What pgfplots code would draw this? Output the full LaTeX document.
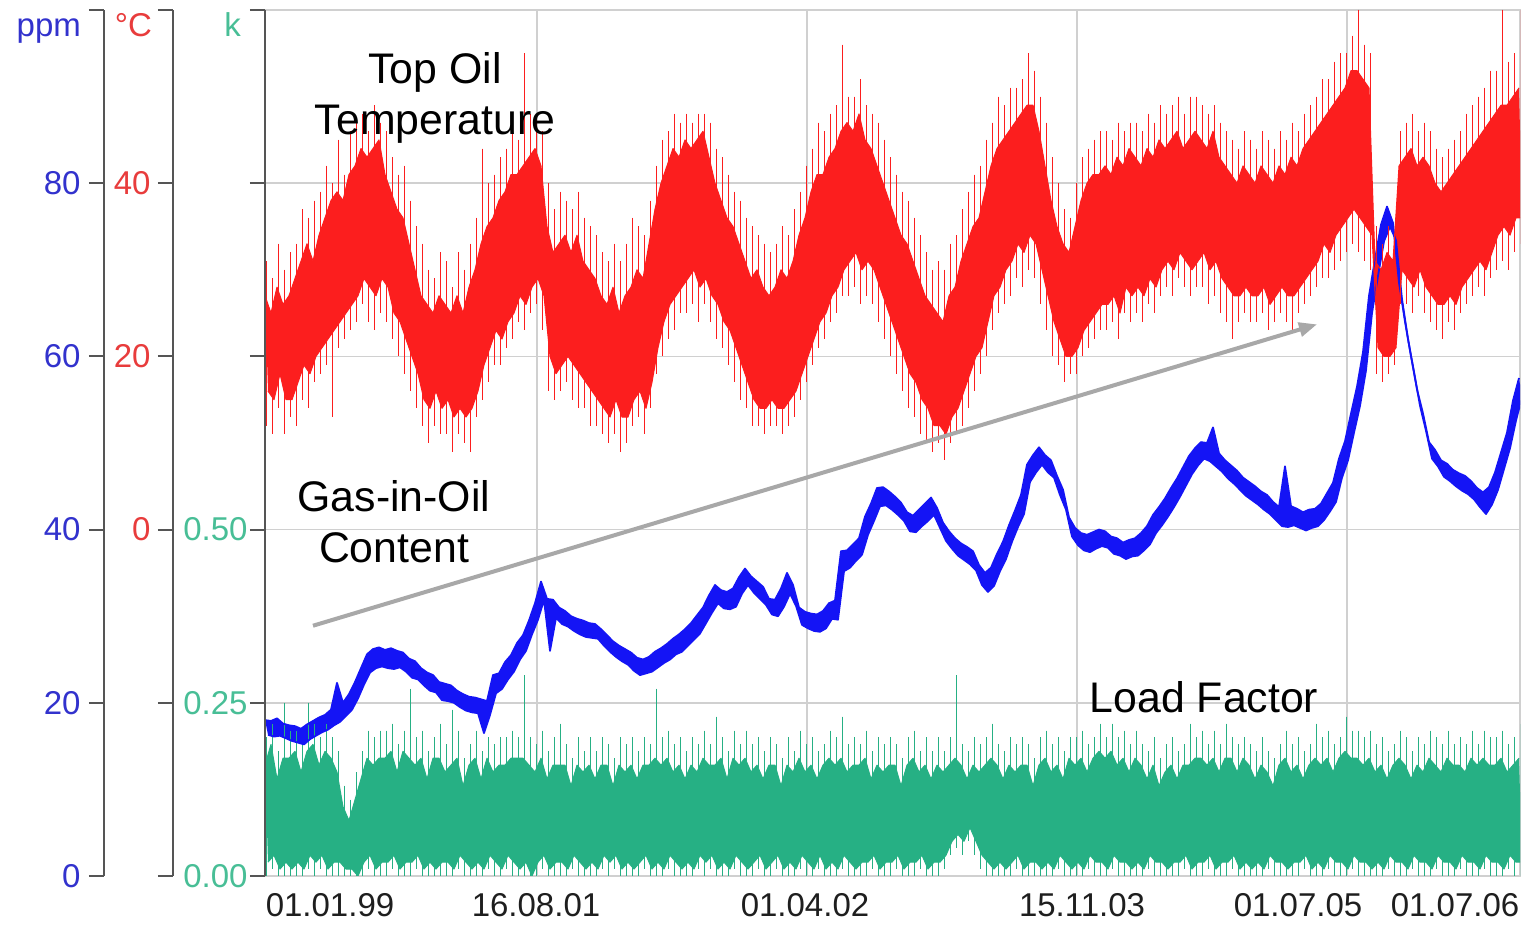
\documentclass[border=0pt]{standalone}
\usepackage{pgfplots}
\pgfplotsset{compat=1.18}
\usepackage{pgfplotstable}
\usepgfplotslibrary{fillbetween}
\usepackage{fontspec}
\setmainfont{Liberation Sans}
\usetikzlibrary{arrows.meta}

\definecolor{ppmblue}{RGB}{50,50,205}
\definecolor{degred}{RGB}{232,60,60}
\definecolor{kgreen}{RGB}{72,190,150}
\definecolor{oilred}{RGB}{252,30,30}
\definecolor{gasblue}{RGB}{20,20,245}
\definecolor{loadgreen}{RGB}{38,176,132}
\definecolor{axisgray}{RGB}{85,85,85}
\definecolor{gridgray}{RGB}{208,208,208}
\definecolor{arrowgray}{RGB}{168,168,168}
\definecolor{datecol}{RGB}{30,30,30}

\newcommand{\ticksize}{\fontsize{16.5}{19.8}\selectfont}
\newcommand{\notesize}{\fontsize{21.4}{25.5}\selectfont}

% One row per interval of 6 units of x:
% upper and lower edge of the dense band (upper at 6i, lower at 6i+3),
% then the highest and lowest single reading in that interval.

% Top oil temperature, degC
\pgfplotstableread[row sep=\\,header=false]{
27 16 31 12\\ 25 15 29 11\\ 28 18 33 14\\ 26 15 30 11\\ 27 15 32 13\\
29 17 33 12\\ 31 19 37 15\\ 33 18 36 14\\ 31 20 38 17\\ 34 21 39 18\\
36 22 42 19\\ 38 23 40 13\\ 39 24 45 21\\ 38 25 41 22\\ 41 26 46 23\\
42 27 47 24\\ 44 29 48 26\\ 43 28 46 24\\ 44 27 49 23\\ 45 29 47 25\\
41 28 46 24\\ 39 25 43 22\\ 37 24 41 20\\ 36 22 42 18\\ 33 20 38 16\\
30 18 35 14\\ 27 15 33 12\\ 26 14 30 10\\ 25 16 29 12\\ 27 14 32 11\\
26 15 31 11\\ 25 13 28 9\\ 27 14 32 11\\ 25 13 30 10\\ 28 14 33 9\\
30 16 36 13\\ 33 19 44 15\\ 35 21 40 17\\ 36 23 41 19\\ 38 22 43 19\\
39 24 44 21\\ 41 25 46 22\\ 41 27 45 24\\ 42 26 55 23\\ 43 28 48 25\\
44 29 48 26\\ 42 27 46 23\\ 35 20 40 16\\ 32 18 37 15\\ 33 19 39 16\\
34 20 38 17\\ 32 19 37 15\\ 34 18 39 14\\ 31 17 36 14\\ 30 16 35 12\\
29 15 34 12\\ 27 14 32 11\\ 26 13 31 10\\ 28 15 33 11\\ 25 13 31 9\\
27 13 33 10\\ 28 15 36 12\\ 30 16 35 13\\ 29 14 34 11\\ 33 17 38 14\\
37 21 42 18\\ 40 24 45 20\\ 42 26 46 22\\ 44 27 48 23\\ 43 28 47 25\\
45 29 48 25\\ 44 30 47 26\\ 45 28 48 24\\ 46 29 48 26\\ 43 27 47 24\\
40 26 44 22\\ 38 24 43 21\\ 36 23 41 19\\ 35 21 39 17\\ 33 19 38 15\\
31 17 36 14\\ 29 15 35 12\\ 30 14 34 12\\ 28 14 33 11\\ 27 15 32 12\\
28 14 33 12\\ 30 14 35 11\\ 29 15 34 12\\ 31 16 37 13\\ 34 18 39 15\\
36 20 42 17\\ 39 22 44 19\\ 41 24 47 21\\ 41 25 46 22\\ 43 27 48 24\\
44 28 49 25\\ 46 30 56 27\\ 47 31 50 27\\ 46 32 50 28\\ 48 30 52 26\\
45 31 49 27\\ 44 30 48 26\\ 42 28 47 24\\ 40 26 45 22\\ 38 24 43 20\\
36 22 41 18\\ 34 20 39 16\\ 33 18 38 14\\ 31 17 36 13\\ 29 15 34 11\\
27 14 32 10\\ 26 12 30 9\\ 25 12 31 10\\ 24 11 30 8\\ 27 13 33 10\\
28 14 34 11\\ 31 16 37 12\\ 33 18 39 14\\ 35 20 41 16\\ 36 21 42 18\\
39 24 45 20\\ 42 27 47 23\\ 44 28 50 25\\ 45 30 49 26\\ 46 31 51 27\\
47 33 51 29\\ 48 32 52 28\\ 49 34 55 30\\ 49 33 53 29\\ 46 30 50 26\\
42 27 47 23\\ 38 24 43 20\\ 35 22 40 19\\ 33 20 37 17\\ 32 20 36 18\\
35 21 40 18\\ 38 23 43 20\\ 40 24 44 21\\ 41 25 45 22\\ 41 26 46 23\\
42 26 46 23\\ 41 27 45 24\\ 43 25 47 22\\ 42 28 46 25\\ 44 27 47 24\\
43 28 47 25\\ 42 27 46 24\\ 44 29 48 26\\ 43 28 47 25\\ 45 30 49 27\\
44 31 48 28\\ 45 30 49 27\\ 46 32 50 29\\ 44 31 48 28\\ 45 30 50 27\\
46 31 50 28\\ 45 32 49 28\\ 44 30 48 26\\ 46 31 49 27\\ 43 29 47 25\\
42 28 46 24\\ 41 27 45 22\\ 40 27 44 24\\ 42 28 46 25\\ 41 27 45 24\\
40 27 44 24\\ 42 28 46 25\\ 41 26 45 23\\ 40 27 44 24\\ 42 28 46 25\\
41 27 45 24\\ 43 27 47 23\\ 42 28 46 25\\ 44 29 48 26\\ 45 30 49 27\\
46 31 50 28\\ 47 33 52 29\\ 48 32 52 29\\ 49 34 54 30\\ 50 35 55 31\\
51 36 55 32\\ 53 37 57 33\\ 53 36 60 32\\ 52 35 56 31\\ 51 34 55 30\\
31 21 35 18\\ 30 20 33 17\\ 32 20 35 18\\ 31 21 34 19\\ 42 30 46 26\\
43 29 47 26\\ 44 28 48 25\\ 42 30 46 27\\ 43 28 47 25\\ 42 27 46 24\\
40 26 44 23\\ 39 26 43 22\\ 40 27 44 24\\ 41 26 45 23\\ 42 28 46 25\\
43 29 48 26\\ 44 30 49 27\\ 45 31 50 28\\ 46 30 51 27\\ 47 32 53 29\\
48 34 53 30\\ 49 35 60 31\\ 49 34 54 30\\ 50 36 55 32\\ 51 36 60 33\\
}\oiltemp

% Gas-in-oil content, ppm (upper edge, lower edge)
\pgfplotstableread[row sep=\\,header=false]{
18.0 16.3\\ 17.9 16.1\\ 18.2 16.2\\ 17.6 15.9\\ 17.4 15.6\\
17.3 15.4\\ 17.0 15.2\\ 17.5 15.8\\ 17.9 16.2\\ 18.3 16.6\\
18.6 16.9\\ 19.2 17.4\\ 22.3 17.8\\ 20.0 18.5\\ 21.0 19.2\\
22.4 20.5\\ 24.0 22.1\\ 25.6 23.5\\ 26.2 24.0\\ 26.4 24.2\\
26.1 24.0\\ 26.3 23.9\\ 26.0 24.1\\ 25.8 23.6\\ 25.1 22.9\\
24.8 22.7\\ 24.0 22.0\\ 23.5 21.4\\ 23.2 21.2\\ 22.4 20.3\\
22.2 20.2\\ 22.0 20.0\\ 21.4 19.5\\ 21.0 19.1\\ 20.7 18.9\\
20.6 18.8\\ 20.4 16.5\\ 20.2 18.6\\ 23.2 21.1\\ 23.4 21.6\\
24.7 22.7\\ 25.5 23.6\\ 26.9 25.0\\ 27.8 26.0\\ 29.5 27.9\\
31.5 29.6\\ 34.0 31.9\\ 32.0 26.0\\ 31.9 29.8\\ 31.0 29.1\\
30.6 28.8\\ 30.0 28.3\\ 29.7 27.9\\ 29.5 27.6\\ 29.2 27.5\\
29.1 27.4\\ 28.5 26.6\\ 27.8 25.9\\ 27.1 25.3\\ 26.6 24.8\\
26.2 24.4\\ 25.8 23.7\\ 25.2 23.2\\ 25.0 23.4\\ 25.3 23.6\\
25.9 24.1\\ 26.3 24.6\\ 26.8 25.0\\ 27.4 25.6\\ 27.9 25.9\\
28.5 26.6\\ 29.2 27.3\\ 30.1 28.0\\ 31.0 29.2\\ 32.4 30.4\\
33.6 31.5\\ 33.0 30.9\\ 32.8 30.8\\ 33.2 31.1\\ 34.5 32.6\\
35.5 33.6\\ 34.6 32.7\\ 34.0 32.0\\ 33.4 31.3\\ 32.0 30.2\\
31.9 30.0\\ 33.2 31.1\\ 35.0 32.6\\ 33.6 31.2\\ 31.0 29.0\\
30.5 28.6\\ 30.3 28.3\\ 30.2 28.2\\ 30.6 28.6\\ 31.5 29.7\\
31.8 29.6\\ 37.5 35.2\\ 37.6 35.6\\ 38.3 36.4\\ 39.0 37.1\\
41.5 39.4\\ 43.0 41.0\\ 44.8 42.7\\ 44.9 42.8\\ 44.4 42.3\\
43.8 41.7\\ 43.1 41.0\\ 42.0 39.8\\ 41.6 39.7\\ 42.3 40.4\\
43.0 41.0\\ 43.7 41.7\\ 42.5 40.2\\ 40.8 38.7\\ 39.8 37.8\\
39.0 37.0\\ 38.4 36.5\\ 38.0 36.0\\ 37.5 35.3\\ 35.9 33.6\\
35.0 32.8\\ 35.6 33.5\\ 37.2 35.2\\ 38.6 36.6\\ 40.5 38.6\\
42.2 40.3\\ 44.0 41.8\\ 47.5 45.5\\ 48.6 46.6\\ 49.5 47.5\\
48.6 46.6\\ 48.0 46.0\\ 46.2 44.0\\ 44.6 42.3\\ 41.4 39.2\\
40.2 38.2\\ 39.6 37.6\\ 39.4 37.4\\ 39.7 37.8\\ 40.0 38.1\\
39.8 37.9\\ 39.2 37.2\\ 39.0 37.0\\ 38.5 36.6\\ 38.8 36.9\\
39.0 37.0\\ 39.6 37.6\\ 40.4 38.3\\ 41.7 39.6\\ 42.6 40.5\\
43.6 41.5\\ 44.8 42.6\\ 45.9 43.8\\ 47.2 45.1\\ 48.5 46.4\\
49.4 47.4\\ 50.1 48.2\\ 50.0 47.9\\ 51.8 47.3\\ 48.8 46.7\\
48.0 45.9\\ 47.4 45.3\\ 46.8 44.6\\ 46.0 43.9\\ 45.5 43.4\\
45.0 42.9\\ 44.4 42.3\\ 44.0 41.8\\ 43.2 41.1\\ 42.6 40.4\\
47.3 40.3\\ 42.7 40.5\\ 42.4 40.2\\ 42.0 39.9\\ 42.3 40.2\\
42.4 40.4\\ 43.0 41.1\\ 44.2 42.1\\ 45.4 43.2\\ 48.2 46.0\\
50.2 48.0\\ 53.4 51.2\\ 56.5 54.3\\ 60.5 58.4\\ 67.0 65.0\\
71.2 69.3\\ 75.2 73.3\\ 77.3 75.0\\ 75.4 73.4\\ 68.5 66.6\\
64.0 62.0\\ 60.0 58.2\\ 56.2 54.3\\ 53.4 51.4\\ 50.1 48.2\\
49.2 47.3\\ 48.0 46.1\\ 47.6 45.6\\ 46.9 45.0\\ 46.5 44.5\\
46.2 44.1\\ 45.6 43.5\\ 44.8 42.6\\ 44.3 41.8\\ 44.9 42.9\\
46.6 44.6\\ 48.9 47.0\\ 51.2 49.4\\ 54.9 52.6\\ 57.5 55.3\\
}\gascontent

% Load factor k
\pgfplotstableread[row sep=\\,header=false]{
0.16 0.02 0.20 0.00\\ 0.19 0.03 0.22 0.01\\ 0.14 0.01 0.18 0.00\\ 0.17 0.02 0.25 0.00\\ 0.17 0.01 0.21 0.00\\
0.18 0.02 0.21 0.00\\ 0.15 0.01 0.19 0.00\\ 0.18 0.03 0.25 0.01\\ 0.19 0.02 0.22 0.00\\ 0.16 0.03 0.20 0.01\\
0.18 0.01 0.22 0.00\\ 0.17 0.02 0.20 0.00\\ 0.15 0.02 0.18 0.00\\ 0.10 0.01 0.13 0.00\\ 0.08 0.01 0.11 0.00\\
0.11 0.00 0.15 0.00\\ 0.14 0.02 0.18 0.00\\ 0.17 0.03 0.21 0.01\\ 0.16 0.01 0.20 0.00\\ 0.17 0.02 0.21 0.00\\
0.17 0.02 0.21 0.00\\ 0.18 0.03 0.22 0.01\\ 0.15 0.01 0.19 0.00\\ 0.18 0.02 0.21 0.00\\ 0.17 0.02 0.27 0.00\\
0.16 0.03 0.20 0.01\\ 0.17 0.01 0.21 0.00\\ 0.14 0.02 0.18 0.00\\ 0.17 0.01 0.20 0.00\\ 0.17 0.02 0.22 0.00\\
0.15 0.02 0.19 0.00\\ 0.16 0.01 0.24 0.00\\ 0.17 0.03 0.21 0.01\\ 0.13 0.02 0.17 0.00\\ 0.16 0.01 0.19 0.00\\
0.17 0.02 0.21 0.00\\ 0.14 0.01 0.18 0.00\\ 0.17 0.03 0.20 0.01\\ 0.15 0.02 0.19 0.00\\ 0.16 0.01 0.20 0.00\\
0.16 0.03 0.20 0.01\\ 0.17 0.02 0.21 0.00\\ 0.17 0.01 0.20 0.00\\ 0.17 0.02 0.29 0.00\\ 0.16 0.00 0.20 0.00\\
0.15 0.02 0.19 0.00\\ 0.17 0.03 0.21 0.01\\ 0.14 0.01 0.18 0.00\\ 0.16 0.02 0.20 0.00\\ 0.16 0.02 0.22 0.00\\
0.16 0.01 0.19 0.00\\ 0.13 0.03 0.17 0.01\\ 0.16 0.02 0.20 0.00\\ 0.15 0.01 0.18 0.00\\ 0.16 0.02 0.20 0.00\\
0.14 0.01 0.18 0.00\\ 0.16 0.03 0.20 0.01\\ 0.16 0.02 0.19 0.00\\ 0.13 0.03 0.17 0.01\\ 0.16 0.01 0.20 0.00\\
0.15 0.02 0.19 0.00\\ 0.16 0.01 0.20 0.00\\ 0.14 0.02 0.18 0.00\\ 0.16 0.03 0.20 0.01\\ 0.16 0.01 0.19 0.00\\
0.17 0.02 0.27 0.00\\ 0.16 0.01 0.20 0.00\\ 0.17 0.03 0.21 0.01\\ 0.15 0.02 0.19 0.00\\ 0.16 0.01 0.20 0.00\\
0.14 0.02 0.18 0.00\\ 0.16 0.01 0.20 0.00\\ 0.15 0.03 0.19 0.01\\ 0.17 0.02 0.21 0.00\\ 0.16 0.03 0.19 0.01\\
0.16 0.01 0.23 0.00\\ 0.17 0.02 0.20 0.00\\ 0.14 0.01 0.18 0.00\\ 0.17 0.03 0.21 0.01\\ 0.16 0.02 0.19 0.00\\
0.17 0.01 0.21 0.00\\ 0.15 0.02 0.19 0.00\\ 0.16 0.03 0.20 0.01\\ 0.14 0.01 0.18 0.00\\ 0.16 0.02 0.20 0.00\\
0.16 0.03 0.19 0.01\\ 0.13 0.01 0.17 0.00\\ 0.16 0.02 0.20 0.00\\ 0.15 0.01 0.18 0.00\\ 0.17 0.03 0.21 0.01\\
0.15 0.02 0.19 0.00\\ 0.16 0.01 0.20 0.00\\ 0.14 0.03 0.18 0.01\\ 0.16 0.01 0.19 0.00\\ 0.17 0.02 0.21 0.00\\
0.16 0.01 0.20 0.00\\ 0.17 0.03 0.23 0.01\\ 0.15 0.02 0.19 0.00\\ 0.16 0.01 0.20 0.00\\ 0.16 0.02 0.19 0.00\\
0.17 0.02 0.21 0.00\\ 0.14 0.03 0.18 0.01\\ 0.16 0.01 0.20 0.00\\ 0.15 0.02 0.19 0.00\\ 0.16 0.02 0.20 0.00\\
0.16 0.03 0.19 0.01\\ 0.13 0.01 0.17 0.00\\ 0.16 0.02 0.20 0.00\\ 0.17 0.02 0.21 0.00\\ 0.15 0.03 0.18 0.01\\
0.16 0.01 0.20 0.00\\ 0.14 0.02 0.18 0.00\\ 0.16 0.02 0.20 0.00\\ 0.15 0.03 0.18 0.01\\ 0.16 0.05 0.20 0.03\\
0.17 0.06 0.29 0.04\\ 0.16 0.05 0.19 0.03\\ 0.14 0.07 0.18 0.05\\ 0.16 0.05 0.20 0.03\\ 0.15 0.03 0.19 0.01\\
0.16 0.02 0.20 0.00\\ 0.17 0.01 0.22 0.00\\ 0.16 0.02 0.19 0.00\\ 0.14 0.01 0.18 0.00\\ 0.16 0.02 0.20 0.00\\
0.15 0.03 0.19 0.01\\ 0.16 0.01 0.20 0.00\\ 0.16 0.02 0.19 0.00\\ 0.13 0.02 0.17 0.00\\ 0.16 0.01 0.20 0.00\\
0.17 0.02 0.21 0.00\\ 0.15 0.01 0.19 0.00\\ 0.16 0.03 0.20 0.01\\ 0.14 0.02 0.18 0.00\\ 0.17 0.01 0.20 0.00\\
0.16 0.02 0.20 0.00\\ 0.17 0.01 0.21 0.00\\ 0.15 0.03 0.19 0.01\\ 0.17 0.02 0.20 0.00\\ 0.18 0.02 0.22 0.00\\
0.17 0.01 0.20 0.00\\ 0.18 0.03 0.22 0.01\\ 0.16 0.02 0.20 0.00\\ 0.17 0.02 0.21 0.00\\ 0.15 0.01 0.19 0.00\\
0.17 0.02 0.21 0.00\\ 0.16 0.01 0.19 0.00\\ 0.14 0.03 0.18 0.01\\ 0.16 0.02 0.20 0.00\\ 0.13 0.02 0.17 0.00\\
0.15 0.01 0.19 0.00\\ 0.16 0.02 0.20 0.00\\ 0.14 0.02 0.18 0.00\\ 0.16 0.03 0.19 0.01\\ 0.16 0.01 0.22 0.00\\
0.17 0.02 0.20 0.00\\ 0.17 0.02 0.21 0.00\\ 0.16 0.03 0.19 0.01\\ 0.17 0.01 0.21 0.00\\ 0.15 0.02 0.19 0.00\\
0.17 0.02 0.22 0.00\\ 0.17 0.03 0.20 0.01\\ 0.15 0.01 0.19 0.00\\ 0.17 0.02 0.20 0.00\\ 0.16 0.01 0.19 0.00\\
0.14 0.02 0.18 0.00\\ 0.16 0.01 0.20 0.00\\ 0.15 0.03 0.18 0.01\\ 0.13 0.02 0.17 0.00\\ 0.16 0.02 0.19 0.00\\
0.17 0.01 0.21 0.00\\ 0.15 0.02 0.19 0.00\\ 0.16 0.02 0.20 0.00\\ 0.14 0.03 0.18 0.01\\ 0.16 0.01 0.19 0.00\\
0.17 0.02 0.22 0.00\\ 0.16 0.01 0.20 0.00\\ 0.17 0.03 0.21 0.01\\ 0.15 0.02 0.19 0.00\\ 0.17 0.02 0.20 0.00\\
0.18 0.01 0.23 0.00\\ 0.17 0.03 0.21 0.01\\ 0.17 0.02 0.21 0.00\\ 0.16 0.02 0.20 0.00\\ 0.17 0.01 0.21 0.00\\
0.15 0.02 0.19 0.00\\ 0.16 0.01 0.20 0.00\\ 0.14 0.03 0.18 0.01\\ 0.16 0.02 0.19 0.00\\ 0.17 0.02 0.21 0.00\\
0.16 0.01 0.20 0.00\\ 0.14 0.03 0.18 0.01\\ 0.16 0.02 0.20 0.00\\ 0.15 0.02 0.19 0.00\\ 0.17 0.01 0.21 0.00\\
0.16 0.03 0.20 0.01\\ 0.15 0.02 0.19 0.00\\ 0.17 0.02 0.21 0.00\\ 0.16 0.01 0.19 0.00\\ 0.16 0.03 0.20 0.01\\
0.15 0.02 0.19 0.00\\ 0.17 0.02 0.21 0.00\\ 0.16 0.01 0.19 0.00\\ 0.17 0.03 0.21 0.01\\ 0.16 0.02 0.20 0.00\\
0.16 0.02 0.20 0.00\\ 0.17 0.01 0.21 0.00\\ 0.15 0.03 0.19 0.01\\ 0.16 0.02 0.20 0.00\\ 0.17 0.02 0.22 0.00\\
}\loadfactor

\pgfplotsset{
  sideaxis/.style={
    scale only axis, width=10pt, height=433pt,
    hide x axis, axis y line*=left, xmin=0, xmax=1,
    tick align=outside, major tick length=7.5pt,
    axis line style={axisgray, line width=1pt},
    tick style={axisgray, line width=1pt},
    yticklabel style={font=\ticksize, inner sep=0pt, anchor=east},
  },
  edge/.style={forget plot, line join=round},
  % thin vertical stroke from the lowest to the highest reading of an interval
  extremes/.style={forget plot, only marks, mark=*, mark size=0pt,
    mark options={draw=none, fill=none},
    error bars/y dir=minus, error bars/y explicit,
    error bars/error mark=none,
    error bars/error bar style={draw=#1, line width=0.5pt}},
}

\begin{document}
\begin{tikzpicture}
\begin{axis}[
  name=main,
  scale only axis, width=627.5pt, height=433pt,
  xmin=0, xmax=1255, ymin=0, ymax=100,
  axis line style={gridgray, line width=1pt},
  xtick={65,271,540,817,1033,1190},
  xticklabels={01.01.99,16.08.01,01.04.02,15.11.03,01.07.05,01.07.06},
  xtick style={draw=none},
  xticklabel style={font=\ticksize, text=datecol, inner sep=0pt, yshift=-8.5pt},
  extra x ticks={272,542,812,1082},
  extra x tick labels={},
  extra x tick style={grid=major, tick style={draw=none}},
  ytick={20,40,60,80}, yticklabels={}, ytick style={draw=none},
  ymajorgrids=true,
  grid style={gridgray, line width=0.8pt},
]
  % load factor (k scale: 1.0 k = 80 ppm)
  \addplot[edge, loadgreen, line width=0.5pt, name path=gH]
    table[x expr=\coordindex*6, y expr=\thisrowno{0}*80] {\loadfactor};
  \addplot[edge, loadgreen, line width=0.5pt, name path=gL]
    table[x expr=\coordindex*6+3, y expr=\thisrowno{1}*80] {\loadfactor};
  \addplot[loadgreen] fill between[of=gH and gL];
  \addplot[extremes=loadgreen]
    table[x expr=\coordindex*6+1.5, y expr=\thisrowno{2}*80,
          y error minus expr=(\thisrowno{2}-\thisrowno{3})*80] {\loadfactor};

  % gas-in-oil content (ppm scale)
  \addplot[edge, gasblue, line width=0.9pt, name path=bH]
    table[x expr=\coordindex*6, y expr=\thisrowno{0}] {\gascontent};
  \addplot[edge, gasblue, line width=0.9pt, name path=bL]
    table[x expr=\coordindex*6+3, y expr=\thisrowno{1}] {\gascontent};
  \addplot[gasblue] fill between[of=bH and bL];

  % top oil temperature (degC scale: 0 degC = 40 ppm)
  \addplot[edge, oilred, line width=0.5pt, name path=rH]
    table[x expr=\coordindex*6, y expr=\thisrowno{0}+40] {\oiltemp};
  \addplot[edge, oilred, line width=0.5pt, name path=rL]
    table[x expr=\coordindex*6+3, y expr=\thisrowno{1}+40] {\oiltemp};
  \addplot[oilred] fill between[of=rH and rL];
  \addplot[extremes=oilred]
    table[x expr=\coordindex*6+1.5, y expr=\thisrowno{2}+40,
          y error minus expr=\thisrowno{2}-\thisrowno{3}] {\oiltemp};

  \draw[arrowgray, line width=2pt, -{Triangle[length=9pt,width=7pt]}]
    (axis cs:48,28.9) -- (axis cs:1052,63.7);
  \coordinate (BL) at (rel axis cs:0,0);
  \coordinate (TL) at (rel axis cs:0,1);
  \coordinate (TR) at (rel axis cs:1,1);
\end{axis}

% ppm scale
\begin{axis}[sideaxis, at={(-80.5pt,0pt)},
  ymin=0, ymax=100, ytick={0,20,40,60,80,100},
  yticklabels={0,20,40,60,80,},
  yticklabel style={text=ppmblue, xshift=-4pt}]
\end{axis}
% degC scale
\begin{axis}[sideaxis, at={(-46pt,0pt)},
  ymin=-40, ymax=60, ytick={-40,-20,0,20,40,60},
  yticklabels={,,0,20,40,},
  yticklabel style={text=degred, xshift=-3.5pt}]
\end{axis}
% load factor scale
\begin{axis}[sideaxis, at={(0pt,0pt)},
  ymin=0, ymax=1.25, ytick={0,0.25,0.5,0.75,1,1.25},
  yticklabels={0.00,0.25,0.50,,,},
  yticklabel style={text=kgreen, xshift=-1pt}]
\end{axis}

\node[anchor=base east, text=ppmblue, font=\ticksize] at ([shift={(-88.5pt,-13.5pt)}]TL) {ppm};
\node[anchor=base east, text=degred, font=\ticksize] at ([shift={(-53pt,-13.5pt)}]TL) {°C};
\node[anchor=base east, text=kgreen, font=\ticksize] at ([shift={(-8.5pt,-13.5pt)}]TL) {k};

\node[align=center, font=\notesize, text=black] at ([shift={(85pt,-44pt)}]TL) {Top Oil\\Temperature};
\node[align=center, font=\notesize, text=black] at ([shift={(64.5pt,-256pt)}]TL) {Gas-in-Oil\\Content};
\node[align=center, font=\notesize, text=black] at ([shift={(469.5pt,-343.5pt)}]TL) {Load Factor};

\pgfresetboundingbox
\path[use as bounding box] ([shift={(-132.5pt,-24.5pt)}]BL) rectangle ([shift={(5pt,5pt)}]TR);
\end{tikzpicture}
\end{document}
